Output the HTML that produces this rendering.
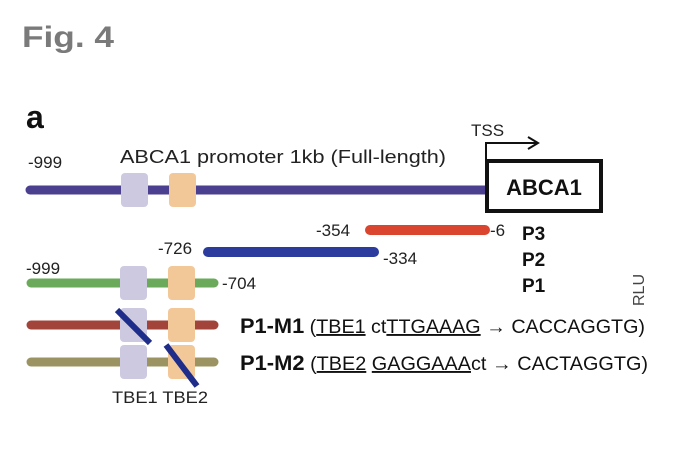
<!DOCTYPE html>
<html><head><meta charset="utf-8"><style>
body{margin:0;background:#fff}
svg text{font-family:"Liberation Sans","DejaVu Sans",sans-serif}
</style></head><body>
<svg width="684" height="450" viewBox="0 0 684 450">
<text x="22" y="47" font-size="30" font-weight="bold" fill="#7a7a7a" textLength="92" lengthAdjust="spacingAndGlyphs">Fig. 4</text>
<text x="26" y="128" font-size="32" font-weight="bold" fill="#111">a</text>
<text x="28" y="168" font-size="17" fill="#222">-999</text>
<text x="120" y="163" font-size="18" fill="#222" textLength="326" lengthAdjust="spacingAndGlyphs">ABCA1 promoter 1kb (Full-length)</text>
<line x1="30" y1="190" x2="487" y2="190" stroke="#4b3f8f" stroke-width="9" stroke-linecap="round"/>
<rect x="121" y="173" width="27" height="34" rx="4" fill="#cdc9e0"/>
<rect x="169" y="173" width="27" height="34" rx="4" fill="#f3c899"/>
<text x="471" y="136" font-size="17" fill="#222">TSS</text>
<polyline points="486,162 486,143 536,143" fill="none" stroke="#111" stroke-width="2"/>
<polyline points="528,137 538,143 528,149" fill="none" stroke="#111" stroke-width="2"/>
<rect x="487" y="161" width="114" height="50" fill="#fff" stroke="#111" stroke-width="4"/>
<text x="544" y="195" font-size="22" font-weight="bold" text-anchor="middle" fill="#111">ABCA1</text>
<line x1="370" y1="230" x2="485" y2="230" stroke="#d9452f" stroke-width="10" stroke-linecap="round"/>
<text x="316" y="236" font-size="17" fill="#222">-354</text>
<text x="490" y="236" font-size="17" fill="#222">-6</text>
<text x="522" y="240" font-size="19" font-weight="bold" fill="#111">P3</text>
<line x1="208" y1="252" x2="374" y2="252" stroke="#2b3b9e" stroke-width="10" stroke-linecap="round"/>
<text x="158" y="254" font-size="17" fill="#222">-726</text>
<text x="383" y="264" font-size="17" fill="#222">-334</text>
<text x="522" y="266" font-size="19" font-weight="bold" fill="#111">P2</text>
<text x="26" y="274" font-size="17" fill="#222">-999</text>
<line x1="31" y1="283" x2="214" y2="283" stroke="#6aaa5a" stroke-width="9" stroke-linecap="round"/>
<rect x="120" y="266" width="27" height="34" rx="4" fill="#cdc9e0"/>
<rect x="168" y="266" width="27" height="34" rx="4" fill="#f3c899"/>
<text x="222" y="289" font-size="17" fill="#222">-704</text>
<text x="522" y="292" font-size="19" font-weight="bold" fill="#111">P1</text>
<text transform="translate(644,290) rotate(-90)" font-size="16" fill="#444" text-anchor="middle">RLU</text>
<line x1="31" y1="325" x2="214" y2="325" stroke="#a3443a" stroke-width="9" stroke-linecap="round"/>
<rect x="120" y="308" width="27" height="34" rx="4" fill="#cdc9e0"/>
<rect x="168" y="308" width="27" height="34" rx="4" fill="#f3c899"/>
<line x1="117" y1="310" x2="150" y2="343" stroke="#1f2d8a" stroke-width="6"/>
<line x1="31" y1="362" x2="214" y2="362" stroke="#9b9462" stroke-width="9" stroke-linecap="round"/>
<rect x="120" y="345" width="27" height="34" rx="4" fill="#cdc9e0"/>
<rect x="168" y="345" width="27" height="34" rx="4" fill="#f3c899"/>
<line x1="166" y1="345" x2="197" y2="386" stroke="#1f2d8a" stroke-width="6"/>
<text x="112" y="403" font-size="17" fill="#222" textLength="96" lengthAdjust="spacingAndGlyphs">TBE1 TBE2</text>
<text x="240" y="333" font-size="19" fill="#111" textLength="405" lengthAdjust="spacingAndGlyphs"><tspan font-weight="bold" font-size="21">P1-M1</tspan> (<tspan text-decoration="underline">TBE1</tspan> ct<tspan text-decoration="underline">TTGAAAG</tspan> → CACCAGGTG)</text>
<text x="240" y="370" font-size="19" fill="#111" textLength="408" lengthAdjust="spacingAndGlyphs"><tspan font-weight="bold" font-size="21">P1-M2</tspan> (<tspan text-decoration="underline">TBE2</tspan> <tspan text-decoration="underline">GAGGAAA</tspan>ct → CACTAGGTG)</text>
</svg>
</body></html>
